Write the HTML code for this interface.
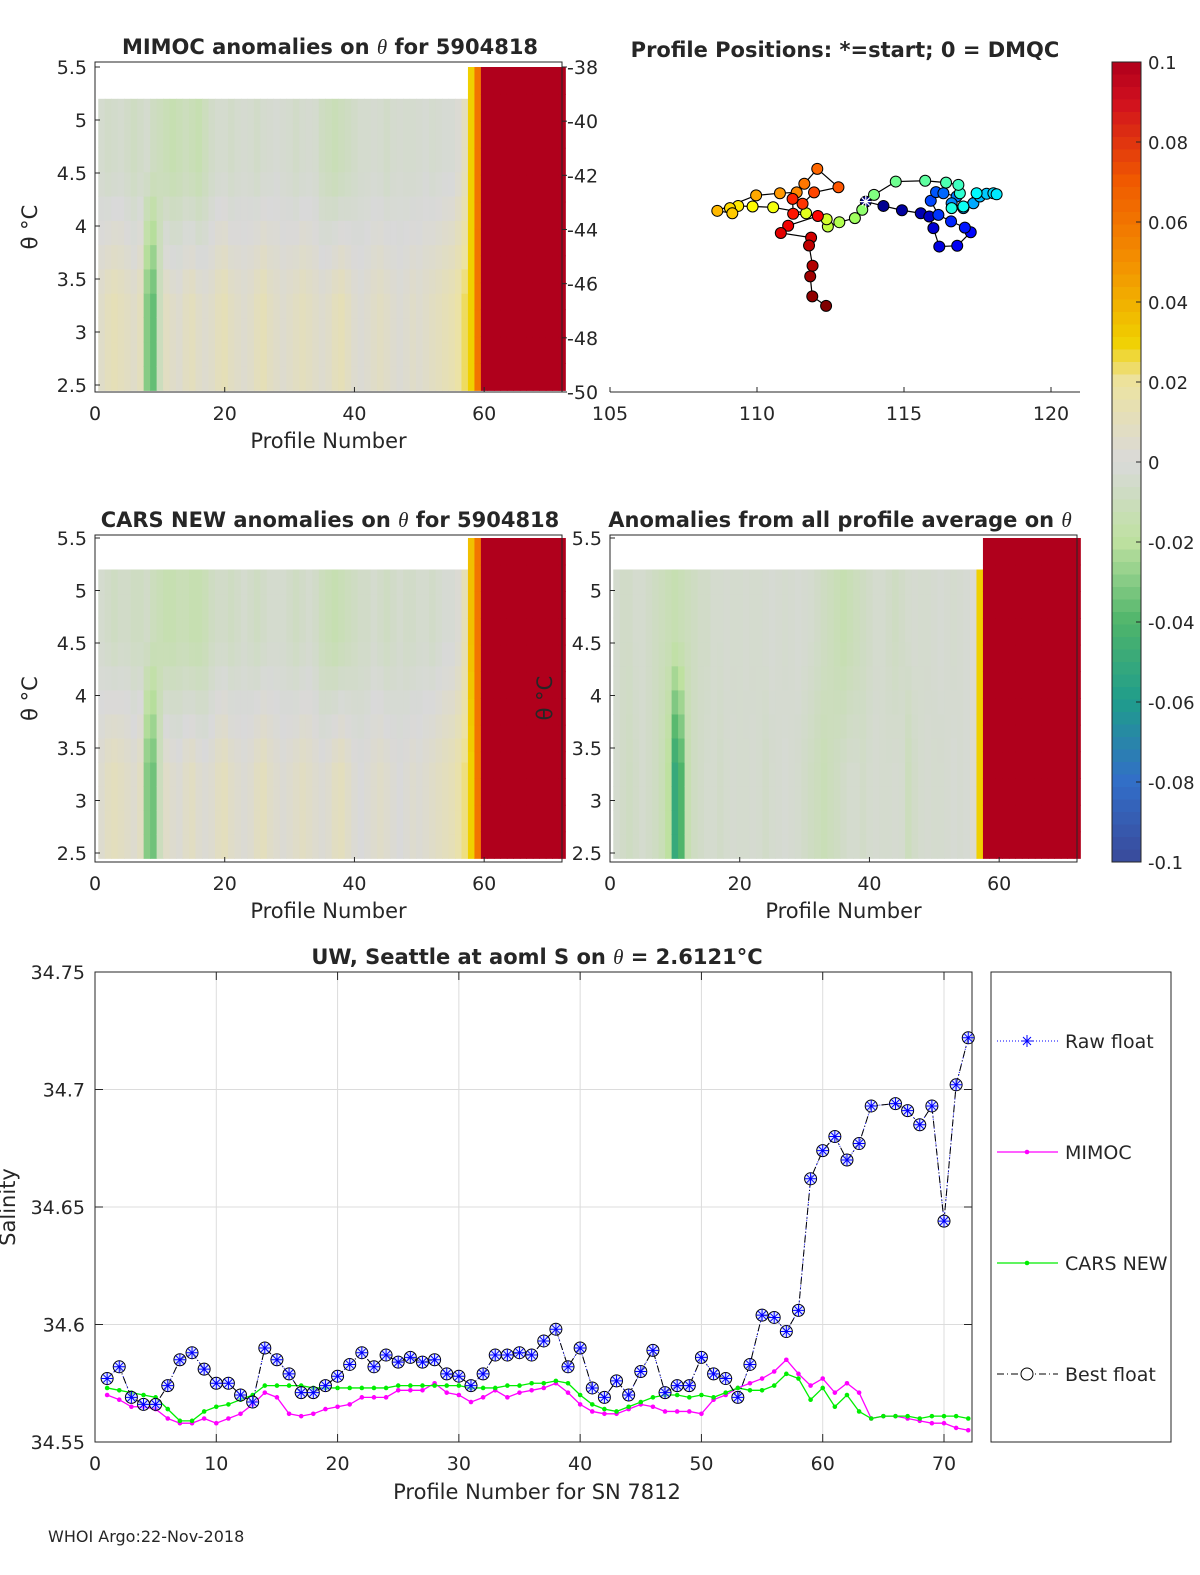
<!DOCTYPE html>
<html><head><meta charset="utf-8">
<style>
html,body{margin:0;padding:0;background:#fff;overflow:hidden;width:1200px;height:1575px;}
svg{display:block;}
svg text{font-family:"DejaVu Sans","Liberation Sans",sans-serif;fill:#262626;}
</style></head>
<body>
<svg id="fig" width="1200" height="1575" viewBox="0 0 1200 1575" xmlns="http://www.w3.org/2000/svg">
<g id="layer"></g>
</svg>
<script>
// ---------- data ----------
const profiles = Array.from({length:72},(_,i)=>i+1);
const bestFloat = [34.577,34.582,34.569,34.566,34.566,34.574,34.585,34.588,34.581,34.575,34.575,34.570,34.567,34.590,34.585,34.579,34.571,34.571,34.574,34.578,34.583,34.588,34.582,34.587,34.584,34.586,34.584,34.585,34.579,34.578,34.574,34.579,34.587,34.587,34.588,34.587,34.593,34.598,34.582,34.590,34.573,34.569,34.576,34.570,34.580,34.589,34.571,34.574,34.574,34.586,34.579,34.577,34.569,34.583,34.604,34.603,34.597,34.606,34.662,34.674,34.680,34.670,34.677,34.693,null,34.694,34.691,34.685,34.693,34.644,34.702,34.722];
const mimoc = [34.570,34.568,34.565,34.565,34.564,34.560,34.558,34.558,34.560,34.558,34.560,34.562,34.566,34.571,34.569,34.562,34.561,34.562,34.564,34.565,34.566,34.569,34.569,34.569,34.572,34.572,34.572,34.575,34.571,34.570,34.567,34.569,34.572,34.569,34.571,34.572,34.573,34.575,34.571,34.566,34.563,34.562,34.562,34.564,34.566,34.565,34.563,34.563,34.563,34.562,34.568,34.570,34.573,34.575,34.577,34.580,34.585,34.579,34.574,34.577,34.571,34.575,34.571,34.560,34.561,34.561,34.560,34.559,34.558,34.558,34.556,34.555];
const cars = [34.573,34.572,34.571,34.570,34.569,34.564,34.559,34.559,34.563,34.565,34.566,34.568,34.570,34.574,34.574,34.574,34.574,34.573,34.573,34.573,34.573,34.573,34.573,34.573,34.574,34.574,34.574,34.574,34.574,34.574,34.573,34.573,34.573,34.574,34.574,34.575,34.575,34.576,34.575,34.570,34.566,34.564,34.563,34.565,34.567,34.569,34.570,34.570,34.569,34.570,34.569,34.571,34.573,34.572,34.572,34.574,34.579,34.577,34.568,34.573,34.565,34.570,34.563,34.560,34.561,34.561,34.561,34.560,34.561,34.561,34.561,34.560];
const xTicksBottom = [0,10,20,30,40,50,60,70];
const yTicksBottom = [34.55,34.6,34.65,34.7,34.75];
const yTickLabelsBottom = ["34.55","34.6","34.65","34.7","34.75"];

const mapLon = [113.70,114.30,114.93,115.57,115.86,116.00,116.20,116.81,117.27,117.07,116.60,116.17,115.91,116.09,116.34,116.79,116.62,117.02,117.36,117.58,117.81,118.04,118.15,117.47,117.02,116.62,116.90,116.85,116.43,115.72,114.72,113.98,113.58,113.33,112.80,112.41,112.37,111.67,110.55,109.85,109.36,109.08,109.16,108.65,109.97,110.78,111.35,111.61,112.05,112.77,111.94,111.55,111.21,111.23,112.07,111.06,110.81,111.84,111.77,111.89,111.81,111.88,112.35];
const mapLat = [-42.97,-43.13,-43.29,-43.40,-43.52,-43.95,-44.63,-44.60,-44.10,-43.93,-43.70,-43.46,-42.94,-42.62,-42.66,-42.78,-43.03,-43.21,-43.03,-42.78,-42.68,-42.66,-42.70,-42.66,-43.15,-43.21,-42.66,-42.35,-42.27,-42.20,-42.23,-42.72,-43.27,-43.58,-43.73,-43.89,-43.62,-43.40,-43.18,-43.15,-43.13,-43.21,-43.40,-43.31,-42.74,-42.66,-42.63,-42.31,-41.76,-42.44,-42.63,-43.05,-42.87,-43.42,-43.50,-43.86,-44.13,-44.30,-44.59,-45.34,-45.73,-46.47,-46.82];

const mimocTop = [-0.004,-0.006,-0.005,-0.004,-0.006,-0.008,-0.006,-0.004,-0.008,-0.010,-0.012,-0.014,-0.012,-0.010,-0.012,-0.014,-0.010,-0.006,-0.004,-0.004,-0.006,-0.004,-0.003,-0.004,-0.006,-0.004,-0.003,-0.002,-0.003,-0.004,-0.006,-0.004,-0.003,-0.004,-0.008,-0.010,-0.012,-0.010,-0.008,-0.006,-0.004,-0.004,-0.003,-0.004,-0.006,-0.004,-0.003,-0.004,-0.004,-0.003,-0.002,-0.004,-0.003,-0.002,-0.002,0.002,0.010,0.030,0.060,0.1,0.1,0.1,0.1,0.1,0.1,0.1,0.1,0.1,0.1,0.1,0.1,0.1];
const mimocBot = [0.006,0.010,0.012,0.010,0.008,0.006,0.010,-0.030,-0.036,-0.010,0.008,0.006,0.004,0.008,0.010,0.006,0.004,0.006,0.010,0.012,0.008,0.006,0.004,0.006,0.010,0.012,0.008,0.006,0.004,0.006,0.008,0.010,0.008,0.006,0.004,0.006,0.010,0.012,0.008,0.004,0.002,0.004,0.006,0.008,0.006,0.004,0.002,0.004,0.006,0.004,0.006,0.008,0.010,0.012,0.014,0.018,0.024,0.030,0.060,0.1,0.1,0.1,0.1,0.1,0.1,0.1,0.1,0.1,0.1,0.1,0.1,0.1];
const carsTop = [-0.004,-0.006,-0.008,-0.006,-0.006,-0.008,-0.008,-0.006,-0.010,-0.012,-0.014,-0.014,-0.012,-0.012,-0.014,-0.014,-0.012,-0.008,-0.006,-0.006,-0.008,-0.006,-0.004,-0.006,-0.008,-0.006,-0.004,-0.004,-0.004,-0.006,-0.008,-0.006,-0.004,-0.006,-0.010,-0.012,-0.014,-0.012,-0.010,-0.008,-0.006,-0.006,-0.004,-0.006,-0.008,-0.006,-0.004,-0.006,-0.006,-0.004,-0.004,-0.006,-0.004,-0.002,-0.002,0.002,0.012,0.035,0.060,0.1,0.1,0.1,0.1,0.1,0.1,0.1,0.1,0.1,0.1,0.1,0.1,0.1];
const carsBot = [0.004,0.008,0.010,0.008,0.006,0.004,0.008,-0.030,-0.034,-0.010,0.006,0.004,0.002,0.006,0.008,0.004,0.002,0.004,0.008,0.010,0.006,0.004,0.002,0.004,0.008,0.010,0.006,0.004,0.002,0.004,0.006,0.008,0.006,0.004,0.002,0.004,0.008,0.010,0.006,0.002,0.000,0.002,0.004,0.006,0.004,0.002,0.000,0.002,0.004,0.002,0.004,0.006,0.008,0.010,0.012,0.016,0.022,0.030,0.060,0.1,0.1,0.1,0.1,0.1,0.1,0.1,0.1,0.1,0.1,0.1,0.1,0.1];
const avgTop = [-0.004,-0.006,-0.006,-0.004,-0.004,-0.006,-0.008,-0.010,-0.012,-0.014,-0.012,-0.010,-0.008,-0.006,-0.006,-0.004,-0.004,-0.003,-0.004,-0.004,-0.003,-0.004,-0.004,-0.003,-0.002,-0.003,-0.004,-0.003,-0.002,-0.003,-0.004,-0.006,-0.008,-0.010,-0.012,-0.014,-0.012,-0.010,-0.008,-0.006,-0.004,-0.004,-0.006,-0.008,-0.006,-0.004,-0.003,-0.004,-0.004,-0.003,-0.002,-0.003,-0.004,-0.003,-0.002,0.002,0.030,0.1,0.1,0.1,0.1,0.1,0.1,0.1,0.1,0.1,0.1,0.1,0.1,0.1,0.1,0.1];
const avgBot = [-0.004,-0.006,-0.008,-0.006,-0.004,-0.006,-0.008,-0.012,-0.020,-0.050,-0.040,-0.014,-0.008,-0.006,-0.004,-0.004,-0.006,-0.004,-0.003,-0.004,-0.004,-0.003,-0.004,-0.006,-0.004,-0.003,-0.002,-0.003,-0.004,-0.006,-0.008,-0.010,-0.012,-0.010,-0.008,-0.006,-0.004,-0.004,-0.006,-0.004,-0.003,-0.004,-0.004,-0.003,-0.004,-0.010,-0.006,-0.004,-0.003,-0.004,-0.004,-0.003,-0.002,-0.003,-0.002,0.004,0.030,0.1,0.1,0.1,0.1,0.1,0.1,0.1,0.1,0.1,0.1,0.1,0.1,0.1,0.1,0.1];
const colorbarTicks = [0.1,0.08,0.06,0.04,0.02,0,-0.02,-0.04,-0.06,-0.08,-0.1];
const colorbarLabels = ["0.1","0.08","0.06","0.04","0.02","0","-0.02","-0.04","-0.06","-0.08","-0.1"];

// ---------- helpers ----------
const NS="http://www.w3.org/2000/svg";
const layer=document.getElementById('layer');
function mk(tag,attrs,parent){const e=document.createElementNS(NS,tag);for(const k in attrs)e.setAttribute(k,attrs[k]);(parent||layer).appendChild(e);return e;}
function txt(x,y,s,size,anchor,parent,weight){const t=mk('text',{x:x,y:y,'font-size':size,'text-anchor':anchor||'middle'},parent);if(weight)t.setAttribute('font-weight',weight);t.textContent=s;return t;}
function titleTxt(x,y,parts,parent){const t=mk('text',{x:x,y:y,'font-size':21,'text-anchor':'middle','font-weight':'bold'},parent);parts.forEach(p=>{const s=mk('tspan',{},t);if(p[1]){s.setAttribute('font-style','italic');s.setAttribute('font-weight','normal');s.setAttribute('font-family','Liberation Serif, serif');}s.textContent=p[0];});return t;}
const stops=[[-0.1,[58,74,154]],[-0.08,[50,110,200]],[-0.06,[31,156,140]],[-0.04,[79,181,106]],[-0.02,[190,225,160]],[0,[217,217,217]],[0.02,[237,227,160]],[0.03,[240,208,0]],[0.05,[243,144,0]],[0.07,[240,90,0]],[0.09,[208,16,30]],[0.1,[176,0,28]]];
function cmap(v){v=Math.max(-0.1,Math.min(0.1,v));for(let i=0;i<stops.length-1;i++){const a=stops[i],b=stops[i+1];if(v<=b[0]){const t=(v-a[0])/(b[0]-a[0]);const c=a[1].map((x,j)=>Math.round(x+(b[1][j]-x)*t));return `rgb(${c[0]},${c[1]},${c[2]})`;}}return 'rgb(176,0,28)';}

// ---------- heatmap panel ----------
function heatPanel(name,L,R,T,B,y55,y25,top,bot,titleParts,titleX,showY){
  const g=mk('g',{});
  
  
  const xs=v=>L+(v/72)*(R-L);
  const ys=v=>y25+(v-2.5)/(3)*(y55-y25);
  for(let i=0;i<72;i++){
    const maxT=i>=57?5.5:5.2;
    const nSub=12;
    for(let k=0;k<nSub;k++){
      const t0=2.45+k*(maxT-2.45)/nSub, t1=2.45+(k+1)*(maxT-2.45)/nSub;
      const f=Math.min(1,Math.max(0,(t0-3.2)/1.2));
      const v=bot[i]*(1-f)+top[i]*f;
      const r=mk('rect',{x:xs(i+0.5),y:ys(t1),width:(R-L)/72+0.6,height:ys(t0)-ys(t1)+0.6,fill:cmap(v)},g);
      
      
    }
  }
  mk('rect',{x:L,y:T,width:R-L,height:B-T,fill:'none',stroke:'#262626','stroke-width':1},g);
  [2.5,3,3.5,4,4.5,5,5.5].forEach(v=>{
    mk('line',{x1:L,x2:L+5,y1:ys(v),y2:ys(v),stroke:'#262626'},g);
    const lab=txt(L-8,ys(v)+7,String(v),19,'end',g);
    
  });
  [0,20,40,60].forEach(v=>{mk('line',{x1:xs(v),x2:xs(v),y1:B,y2:B-5,stroke:'#262626'},g);const t=txt(xs(v),B+28,String(v),19,'middle',g);});
  const xl=txt((L+R)/2,B+56,'Profile Number',21,'middle',g);
  const tt=titleTxt(titleX,T-8,titleParts,g);
  if(showY){const yl=mk('text',{x:0,y:0,'font-size':21,'text-anchor':'middle',transform:`translate(${L-58},${(T+B)/2}) rotate(-90)`},g);yl.textContent='θ °C';}
}
heatPanel('mimoc-anomaly-panel',95,562,62,392,67,385,mimocTop,mimocBot,[['MIMOC anomalies on '],['θ',1],['  for 5904818']],330,true);
heatPanel('cars-anomaly-panel',95,562,535,862,538,853,carsTop,carsBot,[['CARS NEW anomalies on '],['θ',1],[' for 5904818']],330,true);
heatPanel('average-anomaly-panel',610,1077,535,862,538,853,avgTop,avgBot,[['Anomalies from all profile average on '],['θ',1]],840,false);
{const yl=mk('text',{x:0,y:0,'font-size':21,'text-anchor':'middle',transform:`translate(552,698) rotate(-90)`});yl.textContent='θ °C';}

[-38,-40,-42,-44,-46,-48,-50].forEach(v=>{
  const y=67+(-38-v)*(325/12);
  mk('line',{x1:562,x2:567,y1:y,y2:y,stroke:'#262626'});
  const t=txt(567,y+7,String(v),19,'start');
});

// ---------- map ----------
{
  const g=mk('g',{});
  
  
  const lx=v=>610+(v-105)*29.4, ly=v=>67+(-38-v)*(325/12);
  mk('line',{x1:610,x2:1080,y1:392,y2:392,stroke:'#262626'},g);
  [105,110,115,120].forEach(v=>{mk('line',{x1:lx(v),x2:lx(v),y1:392,y2:387,stroke:'#262626'},g);const t=txt(lx(v),420,String(v),19,'middle',g);});
  const tt=txt(845,57,'Profile Positions: *=start; 0 = DMQC',21,'middle',g,'bold');
  let d='';mapLon.forEach((v,i)=>{d+=(i?'L':'M')+lx(v)+','+ly(mapLat[i]);});
  mk('path',{d:d,fill:'none',stroke:'#000','stroke-width':1.2},g);
  const n=mapLon.length;
  function jet(t){const r=Math.min(1,Math.max(0,1.5-Math.abs(4*t-3))),gg=Math.min(1,Math.max(0,1.5-Math.abs(4*t-2))),b=Math.min(1,Math.max(0,1.5-Math.abs(4*t-1)));return `rgb(${Math.round(r*255)},${Math.round(gg*255)},${Math.round(b*255)})`;}
  mapLon.forEach((v,i)=>{const c=mk('circle',{cx:lx(v),cy:ly(mapLat[i]),r:5.5,fill:jet(i/(n-1)),stroke:'#000','stroke-width':1},g);});
  const sx=lx(mapLon[0]),sy=ly(mapLat[0]);
  mk('path',{d:`M${sx-6},${sy}L${sx+6},${sy}M${sx},${sy-6}L${sx},${sy+6}M${sx-4},${sy-4}L${sx+4},${sy+4}M${sx-4},${sy+4}L${sx+4},${sy-4}`,stroke:'#fff','stroke-width':1.2},g);
}

// ---------- colorbar ----------
{
  const g=mk('g',{});
  
  
  for(let i=0;i<64;i++){const v=0.1-(i+0.5)*0.2/64;mk('rect',{x:1112,y:62+i*12.5,width:29,height:13,fill:cmap(v)},g);}
  mk('rect',{x:1112,y:62,width:29,height:800,fill:'none',stroke:'#262626'},g);
  colorbarTicks.forEach((v,i)=>{const y=62+(0.1-v)/0.2*800;mk('line',{x1:1136,x2:1141,y1:y,y2:y,stroke:'#262626'},g);const t=txt(1148,y+7,colorbarLabels[i],18,'start',g);});
}

// ---------- bottom chart ----------
{
  const L=95,R=972,T=972,B=1442;
  const xs=v=>L+v*(944-95)/70, ys=v=>B-(v-34.55)/0.2*(B-T);
  const g=mk('g',{});
  
  
  mk('rect',{x:L,y:T,width:R-L,height:B-T,fill:'#fff'},g);
  xTicksBottom.forEach(v=>{mk('line',{x1:xs(v),x2:xs(v),y1:T,y2:B,stroke:'#dcdcdc'},g);mk('line',{x1:xs(v),x2:xs(v),y1:B,y2:B-8,stroke:'#262626'},g);mk('line',{x1:xs(v),x2:xs(v),y1:T,y2:T+8,stroke:'#262626'},g);const t=txt(xs(v),B+28,String(v),19,'middle',g);});
  yTicksBottom.forEach((v,i)=>{mk('line',{x1:L,x2:R,y1:ys(v),y2:ys(v),stroke:'#dcdcdc'},g);mk('line',{x1:L,x2:L+8,y1:ys(v),y2:ys(v),stroke:'#262626'},g);mk('line',{x1:R,x2:R-8,y1:ys(v),y2:ys(v),stroke:'#262626'},g);const t=txt(L-10,ys(v)+7,yTickLabelsBottom[i],19,'end',g);});
  mk('rect',{x:L,y:T,width:R-L,height:B-T,fill:'none',stroke:'#262626'},g);
  function pathOf(arr){let d='',pen=false;arr.forEach((v,i)=>{if(v==null)return;d+=(pen?'L':'M')+xs(profiles[i])+','+ys(v);pen=true;});return d;}
  const mp=mk('path',{d:pathOf(mimoc),fill:'none',stroke:'#ff00ff','stroke-width':1.3},g);
  mimoc.forEach((v,i)=>{const c=mk('circle',{cx:xs(profiles[i]),cy:ys(v),r:2.3,fill:'#ff00ff'},g);});
  const cp=mk('path',{d:pathOf(cars),fill:'none',stroke:'#00ee00','stroke-width':1.3},g);
  cars.forEach((v,i)=>{const c=mk('circle',{cx:xs(profiles[i]),cy:ys(v),r:2.3,fill:'#00ee00'},g);});
  const rp=mk('path',{d:pathOf(bestFloat),fill:'none',stroke:'#0000ff','stroke-width':1,'stroke-dasharray':'1,2'},g);
  const bp=mk('path',{d:pathOf(bestFloat),fill:'none',stroke:'#000','stroke-width':1,'stroke-dasharray':'7,3,1,3'},g);
  bestFloat.forEach((v,i)=>{if(v==null)return;const x=xs(profiles[i]),y=ys(v);
    const c=mk('circle',{cx:x,cy:y,r:6,fill:'#c8d4ff','fill-opacity':0.5,stroke:'#000','stroke-width':1},g);
    const s=mk('path',{d:`M${x-6},${y}L${x+6},${y}M${x},${y-6}L${x},${y+6}M${x-4},${y-4}L${x+4},${y+4}M${x-4},${y+4}L${x+4},${y-4}`,stroke:'#0000ff','stroke-width':1},g);});
  const tt=titleTxt(537,964,[['UW, Seattle at aoml S on '],['θ',1],[' = 2.6121°C']],g);
  const xl=txt(537,1499,'Profile Number for SN 7812',21,'middle',g);
  const yl=mk('text',{x:0,y:0,'font-size':21,'text-anchor':'middle',transform:'translate(15,1207) rotate(-90)'},g);yl.textContent='Salinity';
  const lg=mk('g',{});
  
  
  mk('rect',{x:991,y:972,width:180,height:470,fill:'#fff',stroke:'#262626'},lg);
  const items=[['Raw float',1041],['MIMOC',1152],['CARS NEW',1263],['Best float',1374]];
  items.forEach((it,i)=>{const y=it[1];
    if(i===0){mk('line',{x1:997,x2:1058,y1:y,y2:y,stroke:'#0000ff','stroke-dasharray':'1,2'},lg);const x=1027;mk('path',{d:`M${x-6},${y}L${x+6},${y}M${x},${y-6}L${x},${y+6}M${x-4},${y-4}L${x+4},${y+4}M${x-4},${y+4}L${x+4},${y-4}`,stroke:'#0000ff'},lg);}
    if(i===1){mk('line',{x1:997,x2:1058,y1:y,y2:y,stroke:'#ff00ff','stroke-width':1.3},lg);mk('circle',{cx:1027,cy:y,r:2.3,fill:'#ff00ff'},lg);}
    if(i===2){mk('line',{x1:997,x2:1058,y1:y,y2:y,stroke:'#00ee00','stroke-width':1.3},lg);mk('circle',{cx:1027,cy:y,r:2.3,fill:'#00ee00'},lg);}
    if(i===3){mk('line',{x1:997,x2:1058,y1:y,y2:y,stroke:'#000','stroke-dasharray':'7,3,1,3'},lg);mk('circle',{cx:1027,cy:y,r:6,fill:'#fff',stroke:'#000'},lg);}
    const t=txt(1065,y+7,it[0],19,'start',lg);
  });
}
{const t=txt(48,1542,'WHOI Argo:22-Nov-2018',16,'start');}
</script>
</body></html>
